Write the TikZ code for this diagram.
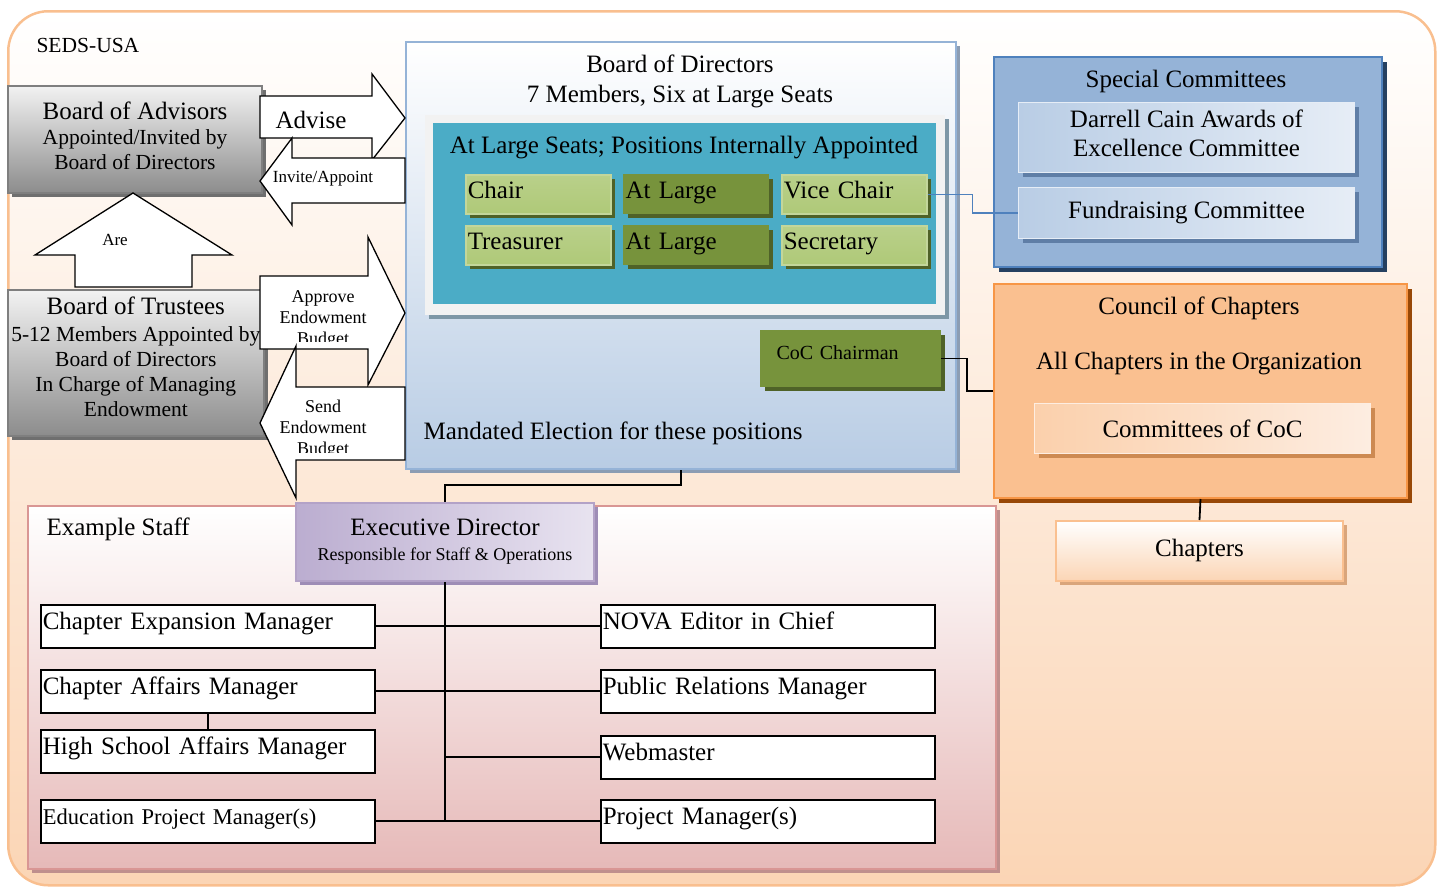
\documentclass[tikz,border=0pt]{standalone}
\usepackage{fontspec}
\setmainfont{Liberation Serif}
\usetikzlibrary{shadows}

\definecolor{framec}{HTML}{F9BF8F}
\definecolor{framebot}{HTML}{FBD5B5}
\definecolor{staffline}{HTML}{D99694}
\definecolor{staffbot}{HTML}{E6B9B8}
\definecolor{staffshadow}{HTML}{BF8F8D}
\definecolor{bodline}{HTML}{95B3D7}
\definecolor{bodbot}{HTML}{B8CCE4}
\definecolor{bodshadow}{HTML}{8C9DB3}
\definecolor{atlshadow}{HTML}{7E97A6}
\definecolor{tealc}{HTML}{4BACC6}
\definecolor{lgline}{HTML}{C3D69B}
\definecolor{lgtop}{HTML}{B9D08A}
\definecolor{lgmid}{HTML}{9BBB59}
\definecolor{lgbot}{HTML}{AFC978}
\definecolor{dgfill}{HTML}{77933C}
\definecolor{dgmid}{HTML}{8FAF50}
\definecolor{greenshadow}{HTML}{4F6228}
\definecolor{sctop}{HTML}{95B3D7}
\definecolor{scmid}{HTML}{4F81BD}
\definecolor{scshadow}{HTML}{254061}
\definecolor{scleft}{HTML}{B9CDE5}
\definecolor{scright}{HTML}{E6EDF6}
\definecolor{sclshadow}{HTML}{5F7EA6}
\definecolor{cctop}{HTML}{FAC090}
\definecolor{ccmid}{HTML}{F79646}
\definecolor{ccshadow}{HTML}{984807}
\definecolor{cclleft}{HTML}{FBD0AC}
\definecolor{cclright}{HTML}{FDEDE1}
\definecolor{cclshadow}{HTML}{CD8A52}
\definecolor{chapshadow}{HTML}{D9A57B}
\definecolor{edleft}{HTML}{BBADD0}
\definecolor{edright}{HTML}{E8E3F0}
\definecolor{edline}{HTML}{B3A2C7}
\definecolor{edshadow}{HTML}{9E8DB6}
\definecolor{graytop}{HTML}{F2F2F2}
\definecolor{graybot}{HTML}{8C8C8C}
\definecolor{grayline}{HTML}{7F7F7F}
\definecolor{grayshadow}{HTML}{6F6F6F}

\newcommand\szbig{\fontsize{25}{30}\selectfont}
\newcommand\szmid{\fontsize{21.5}{25}\selectfont}
\newcommand\szedu{\fontsize{22.5}{27}\selectfont}
\newcommand\szcoc{\fontsize{20}{24}\selectfont}
\newcommand\szarrow{\fontsize{18}{21}\selectfont}
\newcommand\szmini{\fontsize{17}{20}\selectfont}

\tikzset{
  boxshadow/.style={drop shadow={shadow xshift=4pt,shadow yshift=-4pt,fill=#1,opacity=1}},
  conn/.style={draw=black, line width=1.8pt},
  blueconn/.style={draw=scmid, line width=1.4pt},
  blockarrow/.style={draw=black, line width=1.3pt, fill=white, line join=miter},
  sedsframe/.style={draw=framec, line width=2.5pt, rounded corners=40pt, top color=white, bottom color=framebot},
  staffframe/.style={draw=staffline, line width=2pt, top color=white, bottom color=staffbot, boxshadow=staffshadow},
  bodbox/.style={draw=bodline, line width=2pt, top color=white, bottom color=bodbot, boxshadow=bodshadow},
  atlbox/.style={fill=graytop, boxshadow=atlshadow},
  tealbox/.style={fill=tealc},
  greenbase/.style={anchor=north west, text width=141pt, inner xsep=2pt, minimum height=39pt,
    align=left, font=\szbig, text height=17pt, text depth=8pt, boxshadow=greenshadow},
  lgreen/.style={greenbase, draw=lgline, line width=1.5pt, top color=lgtop, middle color=lgmid, bottom color=lgbot},
  dgreen/.style={greenbase, draw=dgfill, line width=1pt, top color=dgfill, middle color=dgmid, bottom color=dgfill},
  scbox/.style={draw=scmid, line width=2pt, top color=sctop, middle color=scmid, bottom color=sctop,
    drop shadow={shadow xshift=5pt,shadow yshift=-5pt,fill=scshadow,opacity=1}},
  sclight/.style={anchor=north west, draw=scright, line width=1pt, left color=scleft, right color=scright,
    font=\szbig, boxshadow=sclshadow},
  ccbox/.style={draw=ccmid, line width=2pt, top color=cctop, middle color=ccmid, bottom color=cctop,
    drop shadow={shadow xshift=5pt,shadow yshift=-5pt,fill=ccshadow,opacity=1}},
  cclight/.style={anchor=north west, draw=cclright, line width=1pt, left color=cclleft, right color=cclright,
    font=\szbig, boxshadow=cclshadow},
  chapbox/.style={anchor=north west, draw=cctop, line width=2pt, top color=white, bottom color=framebot,
    font=\szbig, boxshadow=chapshadow},
  edbox/.style={anchor=north west, draw=edline, line width=2pt, left color=edleft, right color=edright,
    align=center, font=\szbig, boxshadow=edshadow},
  graybox/.style={anchor=north west, draw=grayline, line width=2pt, top color=graytop, bottom color=graybot,
    align=center, font=\szmid, boxshadow=grayshadow},
  staffbox/.style={anchor=north west, draw=black, line width=1.6pt, fill=white, text width=330pt,
    inner xsep=2pt, minimum height=43pt, align=left, font=\szbig, text height=17pt, text depth=11pt}
}

\begin{document}
\begin{tikzpicture}[x=1pt,y=-1pt]
\useasboundingbox (0,0) rectangle (1440,886);

% outer frame
\node[sedsframe, minimum width=1427pt, minimum height=874pt, anchor=north west] (frame) at (7,10) {};
\node[anchor=west, font=\szmid] (seds) at (33,45) {SEDS-USA};

% staff area
\node[staffframe, minimum width=968pt, minimum height=363pt, anchor=north west] (staff) at (27,505) {};
\node[anchor=west, font=\szbig] (stafftitle) at (43,529) {Example Staff};

% board of directors
\node[bodbox, minimum width=550pt, minimum height=427pt, anchor=north west] (bod) at (405,41) {};
\node[font=\szbig, align=center] (bodtitle) at (680,81) {Board of Directors\\7 Members, Six at Large Seats};
\node[atlbox, minimum width=520pt, minimum height=200pt, anchor=north west] (atlframe) at (425,115) {};
\node[tealbox, minimum width=503pt, minimum height=181pt, anchor=north west] (teal) at (433,123) {};
\node[font=\szbig] (tealtitle) at (684,148) {At Large Seats; Positions Internally Appointed};
\node[lgreen] (chair) at (465,174) {Chair};
\node[dgreen] (atlarge1) at (623,174) {At Large};
\node[lgreen] (vchair) at (781,174) {Vice Chair};
\node[lgreen] (treas) at (465,225) {Treasurer};
\node[dgreen] (atlarge2) at (623,225) {At Large};
\node[lgreen] (secr) at (781,225) {Secretary};
\node[dgreen, text width=148pt, inner xsep=16pt, minimum height=56pt, font=\szcoc, text height=14pt, text depth=12pt] (cocchair) at (760,330) {CoC Chairman};
\node[anchor=west, font=\szbig] (mandated) at (420,433) {Mandated Election for these positions};

% special committees
\node[scbox, minimum width=388pt, minimum height=210pt, anchor=north west] (special) at (993,56) {};
\node[font=\szbig] (specialtitle) at (1186,81) {Special Committees};
\node[sclight, minimum width=336pt, minimum height=70pt, align=center, text depth=9pt] (darrell) at (1018,102) {Darrell Cain Awards of\\[-1pt]Excellence Committee};
\node[sclight, minimum width=336pt, minimum height=51pt] (fund) at (1018,187) {Fundraising Committee};

% council of chapters
\node[ccbox, minimum width=413pt, minimum height=214pt, anchor=north west] (council) at (993,283) {};
\node[font=\szbig] (counciltitle) at (1199,308) {Council of Chapters};
\node[font=\szbig] (allchapters) at (1199,364) {All Chapters in the Organization};
\node[cclight, minimum width=336pt, minimum height=50pt] (cccommittees) at (1034,403) {Committees of CoC};
\node[chapbox, minimum width=287pt, minimum height=60pt, text depth=6pt] (chapters) at (1055,520) {Chapters};

% advisors and trustees
\node[graybox, minimum width=254pt, minimum height=107pt, text depth=7pt] (advisors) at (7,85)
  {{\szbig Board of Advisors}\\Appointed/Invited by\\Board of Directors};
\node[graybox, minimum width=254pt, minimum height=146pt, text depth=13pt] (trustees) at (7,289)
  {{\szbig Board of Trustees}\\[2pt]5-12 Members Appointed by\\Board of Directors\\In Charge of Managing\\Endowment};

% block arrows
\draw[blockarrow] (260,96) -- (372,96) -- (372,74) -- (405,118) -- (372,160) -- (372,138) -- (260,138) -- cycle;
\draw[blockarrow] (405,158) -- (292,158) -- (292,138) -- (260,181) -- (292,225) -- (292,203) -- (405,203) -- cycle;
\draw[blockarrow] (75,287) -- (75,255) -- (35,255) -- (133,193) -- (232,255) -- (192,255) -- (192,287) -- cycle;
\draw[blockarrow] (260,276) -- (368,276) -- (368,237) -- (405,313) -- (368,385) -- (368,349) -- (260,349) -- cycle;
\draw[blockarrow] (405,387) -- (296,387) -- (296,346) -- (260,423) -- (296,498) -- (296,460) -- (405,460) -- cycle;
\node[font=\szbig] (advisetxt) at (311,120) {Advise};
\node[font=\szmini] (invitetxt) at (323,179) {Invite/Appoint};
\node[font=\szmini] (aretxt) at (115,240) {Are};
\begin{scope}
  \clip (265,279) rectangle (400,341);
  \node[font=\szarrow, align=center] (approvetxt) at (323,319) {Approve\\Endowment\\Budget};
\end{scope}
\begin{scope}
  \clip (265,390) rectangle (400,452);
  \node[font=\szarrow, align=center] (sendtxt) at (323,429) {Send\\Endowment\\Budget};
\end{scope}

% executive director and staff
\node[edbox, minimum width=298pt, minimum height=78pt, text depth=4pt] (execdir) at (295,502)
  {Executive Director\\[-5pt]{\szarrow Responsible for Staff \& Operations}};
\node[staffbox] (cem) at (40,604) {Chapter Expansion Manager};
\node[staffbox] (cam) at (40,669) {Chapter Affairs Manager};
\node[staffbox] (hsam) at (40,729) {High School Affairs Manager};
\node[staffbox, font=\szedu] (epm) at (40,799) {Education Project Manager(s)};
\node[staffbox] (nova) at (600,604) {NOVA Editor in Chief};
\node[staffbox] (prm) at (600,669) {Public Relations Manager};
\node[staffbox] (web) at (600,735) {Webmaster};
\node[staffbox] (pm) at (600,799) {Project Manager(s)};

% connectors
\draw[conn] (bod.south) -- (bod.south |- 0,485) -- (execdir.north |- 0,485) -- (execdir.north);
\draw[conn] (execdir.south) -- (execdir.south |- pm.west);
\draw[conn] (cem.east) -- (nova.west);
\draw[conn] (cam.east) -- (prm.west);
\draw[conn] (execdir.south |- web.west) -- (web.west);
\draw[conn] (epm.east) -- (pm.west);
\draw[conn] (cam.south) -- (hsam.north);
\draw[blueconn] (vchair.east) -- ++(45,0) |- (fund.west);
\draw[conn] (cocchair.east) -- ++(26,0) |- (council.west);
\draw[conn] (council.south) -- (chapters.north);
\end{tikzpicture}
\end{document}
